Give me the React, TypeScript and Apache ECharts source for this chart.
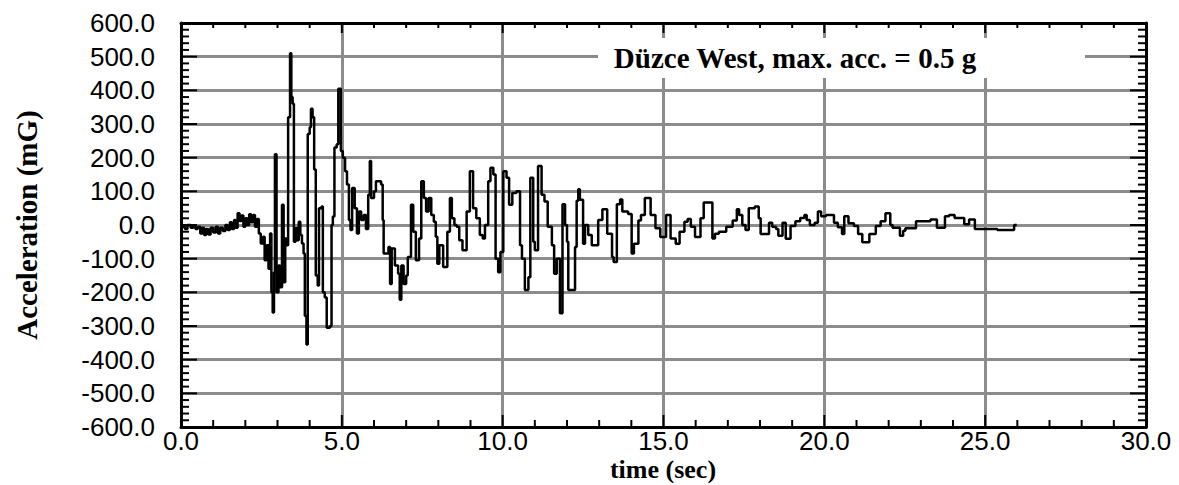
import React, { useEffect, useRef } from "react";
import * as echarts from "echarts";

const timeSec = [
  0.0, 0.12, 0.2, 0.3, 0.38, 0.45, 0.52, 0.6, 0.66, 0.72, 0.78, 0.85, 0.92, 1.0, 1.08, 1.15, 1.22, 1.3, 1.38, 1.45,
  1.52, 1.58, 1.65, 1.7, 1.76, 1.82, 1.88, 1.94, 2.0, 2.06, 2.12, 2.18, 2.24, 2.3, 2.36, 2.42, 2.48, 2.55, 2.6, 2.66,
  2.72, 2.77, 2.81, 2.85, 2.89, 2.92, 2.97, 3.03, 3.08, 3.14, 3.19, 3.24, 3.29, 3.33, 3.39, 3.43, 3.47, 3.51, 3.56, 3.61,
  3.66, 3.71, 3.76, 3.81, 3.85, 3.9, 3.94, 4.0, 4.04, 4.09, 4.14, 4.19, 4.25, 4.29, 4.37, 4.41, 4.47, 4.53, 4.63, 4.68,
  4.72, 4.77, 4.84, 4.89, 4.97, 5.03, 5.1, 5.16, 5.22, 5.27, 5.32, 5.4, 5.47, 5.53, 5.6, 5.68, 5.75, 5.82, 5.87, 5.91,
  6.0, 6.06, 6.22, 6.27, 6.3, 6.45, 6.5, 6.55, 6.65, 6.75, 6.8, 6.85, 6.92, 7.0, 7.05, 7.15, 7.22, 7.3, 7.4, 7.47,
  7.55, 7.62, 7.7, 7.78, 7.86, 7.92, 7.97, 8.03, 8.15, 8.28, 8.36, 8.42, 8.5, 8.57, 8.65, 8.75, 8.88, 8.98, 9.08, 9.18,
  9.29, 9.38, 9.45, 9.55, 9.62, 9.71, 9.78, 9.86, 9.93, 10.02, 10.12, 10.2, 10.3, 10.43, 10.54, 10.6, 10.69, 10.8, 10.86, 10.95,
  11.0, 11.1, 11.21, 11.3, 11.4, 11.53, 11.6, 11.68, 11.78, 11.86, 11.94, 12.0, 12.04, 12.2, 12.25, 12.3, 12.35, 12.4, 12.5, 12.56,
  12.66, 12.77, 12.97, 13.1, 13.25, 13.4, 13.45, 13.55, 13.65, 13.72, 13.9, 14.01, 14.08, 14.22, 14.3, 14.42, 14.6, 14.75, 14.9, 15.08,
  15.22, 15.38, 15.5, 15.65, 15.75, 15.85, 15.98, 16.15, 16.25, 16.52, 16.6, 16.72, 16.95, 17.15, 17.28, 17.35, 17.45, 17.55, 17.65, 17.84,
  17.96, 18.02, 18.12, 18.28, 18.38, 18.5, 18.57, 18.7, 18.8, 18.95, 19.1, 19.25, 19.38, 19.45, 19.55, 19.7, 19.8, 19.9, 20.05, 20.2,
  20.3, 20.42, 20.55, 20.62, 20.75, 20.92, 21.05, 21.18, 21.4, 21.6, 21.75, 21.9, 22.05, 22.12, 22.35, 22.45, 22.52, 22.62, 22.85, 23.3,
  23.5, 23.75, 23.88, 24.05, 24.35, 24.5, 24.68, 25.38, 25.9, 25.98
];

const accelMg = [
  -5, -12, 0, -8, -2, -12, -5, -25, -8, -30, -12, -28, -8, -22, -5, -25, -8, -18, 0, -15,
  8, -12, 15, -8, 35, 12, 28, -5, 20, 0, 32, 8, 30, -5, 18, -25, -55, -35, -105, -60,
  -130, -25, -200, -260, -140, 210, -200, -120, -185, 60, -170, -40, -60, 320, 510, 380, 360, -50, -10, -45,
  10, -30, -55, -85, -270, -355, 270, 290, 345, 320, 165, -150, -180, 50, 55, -200, -215, -305, -300, 0,
  25, 230, 240, 405, 220, 200, 160, 120, 15, -15, 110, 50, -25, 40, 15, 30, -12, 90, 190, 80,
  100, 130, 120, 15, -85, -65, -175, -70, -120, -145, -222, -120, -175, -150, -95, 60, -20, -105, -40, 130,
  80, 40, 80, 30, 10, -35, -115, -60, -125, -20, 80, 20, 0, -5, -45, -75, 40, 160, 50, 20,
  -30, -40, 0, 130, 170, 150, -100, -140, -80, 160, 140, 60, 95, 100, -60, -100, -193, -155, 140, -50,
  -75, 175, 90, 70, -5, -60, -145, -100, -262, 62, 0, -50, -193, -193, -65, 72, 106, 75, -56, 0,
  -30, -60, 15, 47, -26, -95, -110, 62, 76, 40, 33, -85, -56, 13, 30, 80, 30, -10, -36, 30,
  -40, -56, -20, 10, 18, -5, -36, 20, 67, -40, -26, -20, -5, 13, 47, 30, 0, -15, 50, 55,
  20, -27, -27, 7, -5, -12, -32, 7, -41, -3, 11, 21, 30, 15, 0, 7, 40, 26, 30, 30,
  7, -7, -27, 26, 5, -3, -27, -51, -27, -3, 11, 35, 0, -8, -32, -17, -10, -10, 11, 16,
  -8, 26, 30, 21, 2, 16, -12, -15, 0, 0
];

const xTicks = { min: 0, max: 30, step: 5, minorSplit: 5 };
const yTicks = { min: -600, max: 600, step: 100, minorSplit: 5 };

const titleText = "Düzce West, max. acc. = 0.5 g";
const xName = "time (sec)";
const yName = "Acceleration (mG)";

export default function App() {
  const ref = useRef<HTMLDivElement>(null);
  useEffect(() => {
    document.body.style.margin = "0";
    const chart = echarts.init(ref.current!, null, { renderer: "svg" });
    const data = timeSec.map((t, i) => [t, accelMg[i]]);
    const gridStyle = { show: true, lineStyle: { color: "#8c8c8c", width: 3, type: "solid" } };
    const tickFont = { fontFamily: "'Liberation Sans', Arial, sans-serif", fontSize: 26, color: "#000" };
    const axisLine = { show: true, onZero: false, lineStyle: { color: "#000", width: 3 } };
    const serif = "'Liberation Serif', 'Times New Roman', serif";
    const baseGraphics: any[] = [
      { id: "tbox", type: "rect", shape: { x: 598, y: 38, width: 487, height: 40 }, style: { fill: "#fff" }, z: 50 },
      {
        id: "title", type: "text", x: 795, y: 58, z: 51,
        style: { text: titleText, fill: "#000", font: `bold 29px ${serif}`, align: "center", verticalAlign: "middle" },
      },
      {
        id: "xname", type: "text", x: 663, y: 469, z: 51,
        style: { text: xName, fill: "#000", font: `bold 26px ${serif}`, align: "center", verticalAlign: "middle" },
      },
      {
        id: "yname", type: "text", x: 27, y: 225, rotation: Math.PI / 2, z: 51,
        style: { text: yName, fill: "#000", font: `bold 29px ${serif}`, align: "center", verticalAlign: "middle" },
      },
    ];
    chart.setOption({
      animation: false,
      backgroundColor: "#fff",
      grid: { left: 181, top: 23, width: 965, height: 404 },
      xAxis: [
        {
          type: "value", min: xTicks.min, max: xTicks.max, interval: xTicks.step, position: "bottom",
          axisLine, axisTick: { show: false }, splitLine: gridStyle,
          axisLabel: { ...tickFont, margin: 3, lineHeight: 22, formatter: (v: number) => v.toFixed(1) },
        },
        {
          type: "value", min: xTicks.min, max: xTicks.max, interval: xTicks.step, position: "top",
          axisLine, axisTick: { show: false }, splitLine: { show: false }, axisLabel: { show: false },
        },
      ],
      yAxis: [
        {
          type: "value", min: yTicks.min, max: yTicks.max, interval: yTicks.step, position: "left",
          axisLine, axisTick: { show: false }, splitLine: gridStyle,
          axisLabel: { ...tickFont, margin: 26, formatter: (v: number) => v.toFixed(1) },
        },
        {
          type: "value", min: yTicks.min, max: yTicks.max, interval: yTicks.step, position: "right",
          axisLine, axisTick: { show: false }, splitLine: { show: false }, axisLabel: { show: false },
        },
      ],
      graphic: baseGraphics,
      series: [
        {
          type: "line", xAxisIndex: 0, yAxisIndex: 0, data, step: "end", showSymbol: false,
          lineStyle: { color: "#000", width: 2.5 }, z: 10,
        },
      ],
    });

    // inward tick marks on all four sides, positioned through the axes' scales
    const ticks: any[] = [];
    const tickLine = (x1: number, y1: number, x2: number, y2: number) =>
      ticks.push({ type: "line", shape: { x1, y1, x2, y2 }, style: { stroke: "#000", lineWidth: 2 }, z: 60, silent: true });
    const [, yBottom] = chart.convertToPixel({ xAxisIndex: 0, yAxisIndex: 0 }, [xTicks.min, yTicks.min]) as number[];
    const [, yTop] = chart.convertToPixel({ xAxisIndex: 0, yAxisIndex: 0 }, [xTicks.min, yTicks.max]) as number[];
    const [xLeft] = chart.convertToPixel({ xAxisIndex: 0, yAxisIndex: 0 }, [xTicks.min, 0]) as number[];
    const [xRight] = chart.convertToPixel({ xAxisIndex: 0, yAxisIndex: 0 }, [xTicks.max, 0]) as number[];
    const xMinorStep = xTicks.step / xTicks.minorSplit;
    for (let k = 0; k <= (xTicks.max - xTicks.min) / xMinorStep + 1e-9; k++) {
      const v = xTicks.min + k * xMinorStep;
      const major = k % xTicks.minorSplit === 0;
      const px = chart.convertToPixel({ xAxisIndex: 0 }, v) as number;
      tickLine(px, yBottom, px, yBottom - (major ? 12 : 7));
      tickLine(px, yTop, px, yTop + (major ? 10 : 5));
    }
    const yMinorStep = yTicks.step / yTicks.minorSplit;
    for (let k = 0; k <= (yTicks.max - yTicks.min) / yMinorStep + 1e-9; k++) {
      const v = yTicks.min + k * yMinorStep;
      const major = k % yTicks.minorSplit === 0;
      const py = chart.convertToPixel({ yAxisIndex: 0 }, v) as number;
      tickLine(xLeft, py, xLeft + (major ? 16 : 8), py);
      tickLine(xRight, py, xRight - (major ? 16 : 8), py);
    }
    chart.setOption({ graphic: [...baseGraphics, ...ticks] });
    return () => chart.dispose();
  }, []);
  return <div ref={ref} style={{ position: "absolute", left: 0, top: 0, width: 1179, height: 485 }} />;
}
